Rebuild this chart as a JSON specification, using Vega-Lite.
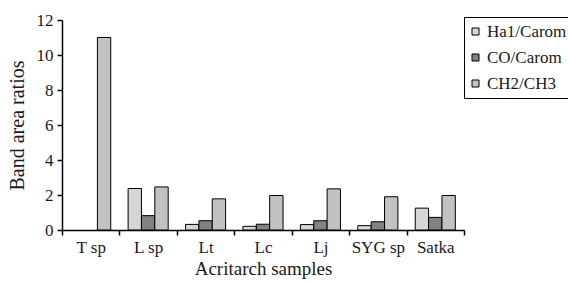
{
  "$schema": "https://vega.github.io/schema/vega-lite/v6.json",
  "autosize": "none",
  "padding": {"left": 62, "top": 20, "right": 104, "bottom": 52},
  "width": 402,
  "height": 210,
  "background": "white",
  "config": {
    "font": "Liberation Serif",
    "view": {"stroke": null}
  },
  "data": {
    "values": [
      {"sample": "T sp", "ratio": "Ha1/Carom", "value": 0},
      {"sample": "T sp", "ratio": "CO/Carom", "value": 0},
      {"sample": "T sp", "ratio": "CH2/CH3", "value": 11.0},
      {"sample": "L sp", "ratio": "Ha1/Carom", "value": 2.37},
      {"sample": "L sp", "ratio": "CO/Carom", "value": 0.82},
      {"sample": "L sp", "ratio": "CH2/CH3", "value": 2.46},
      {"sample": "Lt", "ratio": "Ha1/Carom", "value": 0.32},
      {"sample": "Lt", "ratio": "CO/Carom", "value": 0.53},
      {"sample": "Lt", "ratio": "CH2/CH3", "value": 1.78},
      {"sample": "Lc", "ratio": "Ha1/Carom", "value": 0.21},
      {"sample": "Lc", "ratio": "CO/Carom", "value": 0.33},
      {"sample": "Lc", "ratio": "CH2/CH3", "value": 1.97},
      {"sample": "Lj", "ratio": "Ha1/Carom", "value": 0.31},
      {"sample": "Lj", "ratio": "CO/Carom", "value": 0.53},
      {"sample": "Lj", "ratio": "CH2/CH3", "value": 2.35},
      {"sample": "SYG sp", "ratio": "Ha1/Carom", "value": 0.25},
      {"sample": "SYG sp", "ratio": "CO/Carom", "value": 0.47},
      {"sample": "SYG sp", "ratio": "CH2/CH3", "value": 1.9},
      {"sample": "Satka", "ratio": "Ha1/Carom", "value": 1.25},
      {"sample": "Satka", "ratio": "CO/Carom", "value": 0.72},
      {"sample": "Satka", "ratio": "CH2/CH3", "value": 1.97}
    ]
  },
  "mark": {"type": "bar", "stroke": "black", "strokeWidth": 1},
  "encoding": {
    "x": {
      "field": "sample",
      "type": "nominal",
      "sort": ["T sp", "L sp", "Lt", "Lc", "Lj", "SYG sp", "Satka"],
      "scale": {"paddingInner": 0, "paddingOuter": 0},
      "axis": {
        "title": "Acritarch samples",
        "titleFont": "Liberation Serif",
        "titleFontSize": 19,
        "titleFontWeight": "normal",
        "titleColor": "#1a1a1a",
        "titlePadding": 4,
        "labelAngle": 0,
        "labelFont": "Liberation Serif",
        "labelFontSize": 17,
        "labelColor": "#1a1a1a",
        "labelPadding": 4,
        "tickBand": "extent",
        "tickColor": "black",
        "tickSize": 5,
        "tickWidth": 1.5,
        "domainColor": "black",
        "domainWidth": 1.5
      }
    },
    "xOffset": {
      "field": "ratio",
      "type": "nominal",
      "sort": ["Ha1/Carom", "CO/Carom", "CH2/CH3"],
      "scale": {"paddingInner": 0, "paddingOuter": 0.65}
    },
    "y": {
      "field": "value",
      "type": "quantitative",
      "scale": {"domain": [0, 12]},
      "axis": {
        "title": "Band area ratios",
        "titleFont": "Liberation Serif",
        "titleFontSize": 20,
        "titleFontWeight": "normal",
        "titleColor": "#1a1a1a",
        "titlePadding": 9,
        "values": [0, 2, 4, 6, 8, 10, 12],
        "grid": false,
        "labelFont": "Liberation Serif",
        "labelFontSize": 17,
        "labelColor": "#1a1a1a",
        "labelPadding": 4,
        "tickColor": "black",
        "tickSize": 5,
        "tickWidth": 1.5,
        "domainColor": "black",
        "domainWidth": 1.5
      }
    },
    "strokeOpacity": {
      "condition": {"test": "datum.value <= 0", "value": 0},
      "value": 1
    },
    "color": {
      "field": "ratio",
      "type": "nominal",
      "sort": ["Ha1/Carom", "CO/Carom", "CH2/CH3"],
      "scale": {
        "domain": ["Ha1/Carom", "CO/Carom", "CH2/CH3"],
        "range": ["#d6d6d6", "#828282", "#c2c2c2"]
      },
      "legend": {
        "title": null,
        "orient": "none",
        "legendX": 402,
        "legendY": -3,
        "strokeColor": "black",
        "padding": 6,
        "symbolType": "square",
        "symbolSize": 49,
        "symbolOffset": -3,
        "symbolStrokeColor": "black",
        "symbolStrokeWidth": 1,
        "labelFont": "Liberation Serif",
        "labelFontSize": 17,
        "labelColor": "#1a1a1a",
        "labelOffset": 3,
        "rowPadding": 8
      }
    }
  }
}
